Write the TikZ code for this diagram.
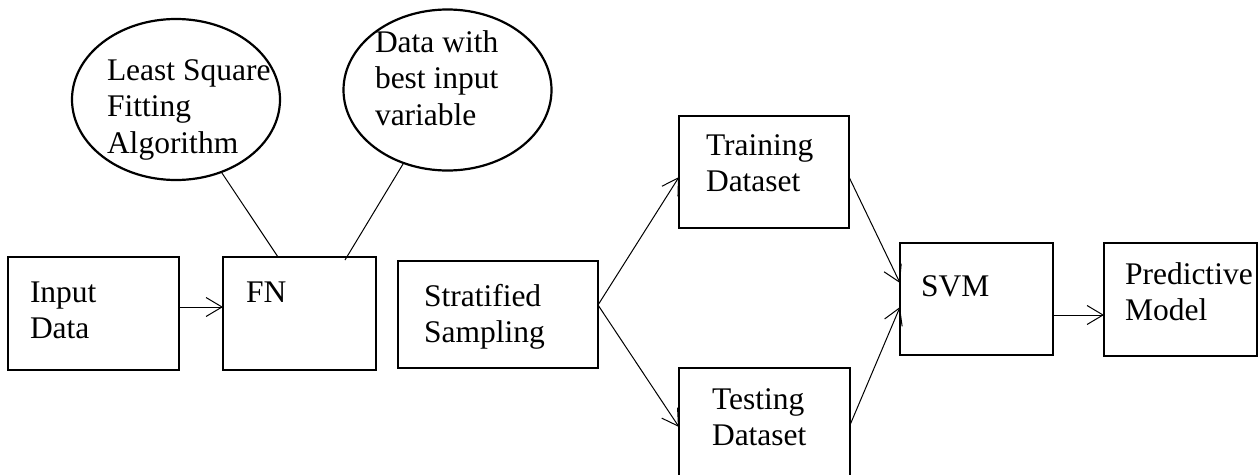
\documentclass[tikz,border=0pt]{standalone}
\usepackage{fontspec}
\setmainfont{Liberation Serif}
\usetikzlibrary{arrows.meta,shapes.geometric}
\begin{document}
\begin{tikzpicture}[x=1pt,y=1pt,
  box/.style={draw,line width=2.2pt,rectangle,inner sep=0pt,outer sep=0pt,anchor=north west},
  bubble/.style={draw,line width=2.2pt,ellipse,inner sep=0pt,outer sep=0pt,minimum width=208pt,minimum height=161pt},
  lbl/.style={anchor=base west,inner sep=0pt,outer sep=0pt,font=\fontsize{31.5pt}{36.8pt}\selectfont},
  conn/.style={line width=1pt},
  arr/.style={line width=1pt,-{Straight Barb[length=16pt,width=19pt]}}]
\useasboundingbox (0,0) rectangle (1258,-474);
\clip (0,0) rectangle (1258,-474);
% bubbles
\node[bubble] (e1) at (176,-99.5) {};
\node[bubble] (e2) at (447.5,-90) {};
% boxes
\node[box,minimum width=171pt,minimum height=113pt] (input) at (8,-257) {};
\node[box,minimum width=153pt,minimum height=113pt] (fn) at (223,-257) {};
\node[box,minimum width=200pt,minimum height=107pt] (strat) at (398,-261) {};
\node[box,minimum width=170pt,minimum height=112pt] (train) at (679,-116) {};
\node[box,minimum width=171pt,minimum height=112pt] (test) at (679,-368) {};
\node[box,minimum width=153pt,minimum height=112pt] (svm) at (900,-243) {};
\node[box,minimum width=153pt,minimum height=113pt] (pred) at (1104,-243) {};
% labels
\node[lbl] (t1) at (107,-80) {\begin{tabular}[t]{@{}l@{}}Least Square\\Fitting\\Algorithm\end{tabular}};
\node[lbl] (t2) at (375,-52) {\begin{tabular}[t]{@{}l@{}}Data with\\best input\\variable\end{tabular}};
\node[lbl] (t3) at (30,-302) {\begin{tabular}[t]{@{}l@{}}Input\\Data\end{tabular}};
\node[lbl] (t4) at (246,-302) {FN};
\node[lbl] (t5) at (424,-306) {\begin{tabular}[t]{@{}l@{}}Stratified\\Sampling\end{tabular}};
\node[lbl] (t6) at (706,-155) {\begin{tabular}[t]{@{}l@{}}Training\\Dataset\end{tabular}};
\node[lbl] (t7) at (712,-409) {\begin{tabular}[t]{@{}l@{}}Testing\\Dataset\end{tabular}};
\node[lbl] (t8) at (921,-296) {SVM};
\node[lbl] (t9) at (1125,-284) {\begin{tabular}[t]{@{}l@{}}Predictive\\Model\end{tabular}};
% connectors
\draw[conn] (e1.-58) -- ([xshift=-21.5pt]fn.north);
\draw[conn] (e2.-121) -- ([xshift=45.5pt,yshift=-3pt]fn.north);
\draw[arr] ([yshift=6.5pt]input.east) -- ([yshift=6.5pt]fn.west);
\draw[arr] ([yshift=9.5pt]strat.east) -- ([yshift=-5pt]train.west);
\draw[arr] ([yshift=9.5pt]strat.east) -- ([yshift=-3pt]test.west);
\draw[arr] ([yshift=-5pt]train.east) -- ([yshift=16pt]svm.west);
\draw[arr] ([yshift=-1pt]test.east) -- ([yshift=-8pt]svm.west);
\draw[arr] ([yshift=-16pt]svm.east) -- ([yshift=-15.5pt]pred.west);
\end{tikzpicture}
\end{document}
